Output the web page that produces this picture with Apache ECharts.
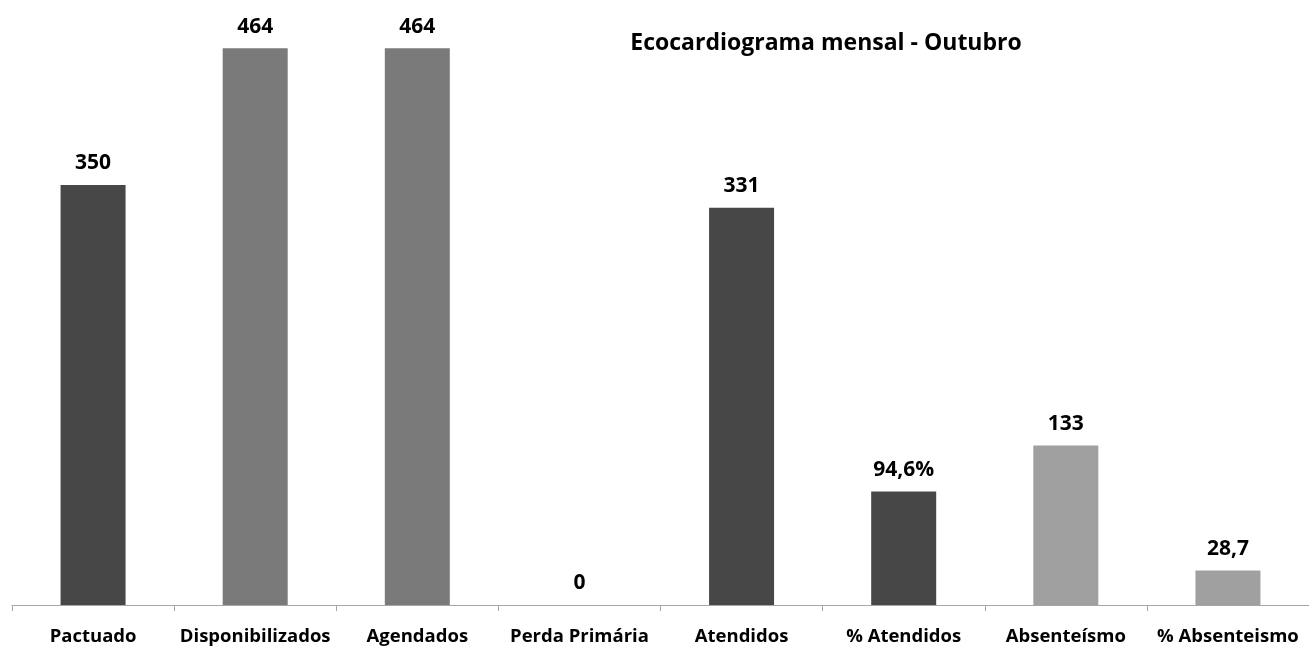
<!DOCTYPE html>
<html>
<head>
<meta charset="utf-8">
<script src="https://cdn.jsdelivr.net/npm/echarts@6/dist/echarts.min.js"></script>
<style>
  html, body { margin: 0; padding: 0; background: #ffffff; }
  #chart { width: 1309px; height: 648px; }
</style>
</head>
<body>
<div id="chart"></div>
<script>
// Monthly echocardiogram figures for October
const categories = ['Pactuado', 'Disponibilizados', 'Agendados', 'Perda Primária', 'Atendidos', '% Atendidos', 'Absenteísmo', '% Absenteismo'];
const values = [350, 464, 464, 0, 331, 94.6, 133, 28.7];
const valueLabels = ['350', '464', '464', '0', '331', '94,6%', '133', '28,7'];
const barColors = ['#474747', '#7a7a7a', '#7a7a7a', '#474747', '#474747', '#474747', '#a0a0a0', '#a0a0a0'];
const titleText = 'Ecocardiograma mensal - Outubro';

const FONT = '"Open Sans", "Noto Sans", sans-serif';

const chart = echarts.init(document.getElementById('chart'));
chart.setOption({
  animation: false,
  title: {
    text: titleText,
    left: 821,
    top: 27,
    textAlign: 'center',
    textStyle: { fontFamily: FONT, fontWeight: 'bold', fontSize: 23, color: '#000' }
  },
  grid: { left: 12, right: -6, top: 5, bottom: 43, containLabel: false },
  xAxis: {
    type: 'category',
    data: categories,
    axisLine: { lineStyle: { color: '#a6a6a6', width: 1 } },
    axisTick: { show: true, length: 6, lineStyle: { color: '#a6a6a6' } },
    axisLabel: {
      interval: 0,
      margin: 22,
      fontFamily: FONT,
      fontWeight: 'bold',
      fontSize: 18.5,
      color: '#000'
    }
  },
  yAxis: {
    type: 'value',
    min: 0,
    max: 500,
    show: false,
    splitLine: { show: false }
  },
  series: [{
    type: 'bar',
    barWidth: 65,
    data: values.map((v, i) => ({ value: v, itemStyle: { color: barColors[i] } })),
    label: {
      show: true,
      position: 'top',
      distance: 11,
      fontFamily: FONT,
      fontWeight: 'bold',
      fontSize: 21,
      color: '#000',
      formatter: p => valueLabels[p.dataIndex]
    }
  }]
});
</script>
</body>
</html>
